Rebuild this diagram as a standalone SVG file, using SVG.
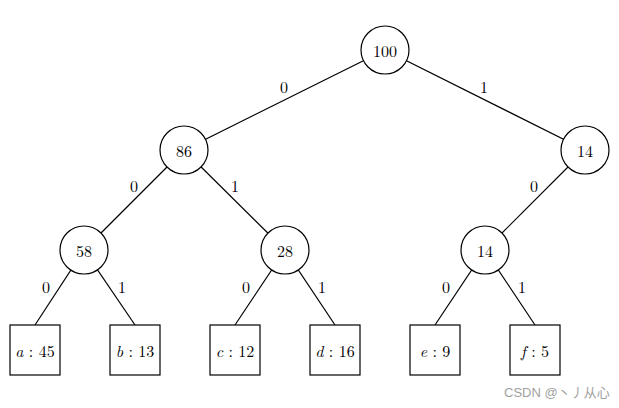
<svg xmlns="http://www.w3.org/2000/svg" width="619" height="408" viewBox="0 0 619 408">
<style>
.n{fill:#fff;stroke:#000;stroke-width:1.2}
.e{stroke:#000;stroke-width:1.2;fill:none}
text{font-family:"Latin Modern Roman","Liberation Serif","DejaVu Serif",serif;font-size:16px;fill:#000}
.c{text-anchor:middle;dominant-baseline:central}
.l{text-anchor:middle}
.wm{font-family:"Liberation Sans","Noto Sans CJK SC",sans-serif;font-size:13px;fill:#a0a0a0}
</style>
<rect width="619" height="408" fill="#fff"/>
<g id="edges">
<line class="e" x1="385" y1="50" x2="184" y2="150"/>
<line class="e" x1="385" y1="50" x2="585" y2="150"/>
<line class="e" x1="184" y1="150" x2="84" y2="250"/>
<line class="e" x1="184" y1="150" x2="285" y2="250"/>
<line class="e" x1="585" y1="150" x2="485" y2="250"/>
<line class="e" x1="84" y1="250" x2="35" y2="325"/>
<line class="e" x1="84" y1="250" x2="135" y2="325"/>
<line class="e" x1="285" y1="250" x2="235" y2="325"/>
<line class="e" x1="285" y1="250" x2="335" y2="325"/>
<line class="e" x1="485" y1="250" x2="435" y2="325"/>
<line class="e" x1="485" y1="250" x2="535" y2="325"/>
</g>
<g id="labels">
<text class="l" x="284" y="93">0</text>
<text class="l" x="484" y="93">1</text>
<text class="l" x="134" y="192">0</text>
<text class="l" x="235" y="192">1</text>
<text class="l" x="534" y="192">0</text>
<text class="l" x="46" y="293">0</text>
<text class="l" x="122" y="293">1</text>
<text class="l" x="246" y="293">0</text>
<text class="l" x="322" y="293">1</text>
<text class="l" x="446" y="293">0</text>
<text class="l" x="522" y="293">1</text>
</g>
<g id="n100"><circle class="n" cx="385" cy="50" r="24"/><text class="c" x="385" y="50">100</text></g>
<g id="n86"><circle class="n" cx="184" cy="150" r="24"/><text class="c" x="184" y="150">86</text></g>
<g id="n14a"><circle class="n" cx="585" cy="150" r="24"/><text class="c" x="585" y="150">14</text></g>
<g id="n58"><circle class="n" cx="84" cy="250" r="24"/><text class="c" x="84" y="250">58</text></g>
<g id="n28"><circle class="n" cx="285" cy="250" r="24"/><text class="c" x="285" y="250">28</text></g>
<g id="n14b"><circle class="n" cx="485" cy="250" r="24"/><text class="c" x="485" y="250">14</text></g>
<g id="la"><rect class="n" x="10" y="325" width="50" height="50"/><text class="c" x="35" y="350"><tspan font-style="italic">a</tspan> : 45</text></g>
<g id="lb"><rect class="n" x="110" y="325" width="50" height="50"/><text class="c" x="135" y="350"><tspan font-style="italic">b</tspan> : 13</text></g>
<g id="lc"><rect class="n" x="210" y="325" width="50" height="50"/><text class="c" x="235" y="350"><tspan font-style="italic">c</tspan> : 12</text></g>
<g id="ld"><rect class="n" x="310" y="325" width="50" height="50"/><text class="c" x="335" y="350"><tspan font-style="italic">d</tspan> : 16</text></g>
<g id="le"><rect class="n" x="410" y="325" width="50" height="50"/><text class="c" x="435" y="350"><tspan font-style="italic">e</tspan> : 9</text></g>
<g id="lf"><rect class="n" x="510" y="325" width="50" height="50"/><text class="c" x="535" y="350"><tspan font-style="italic">f</tspan> : 5</text></g>
<text class="wm" x="504" y="397">CSDN @丶丿从心</text>
</svg>
